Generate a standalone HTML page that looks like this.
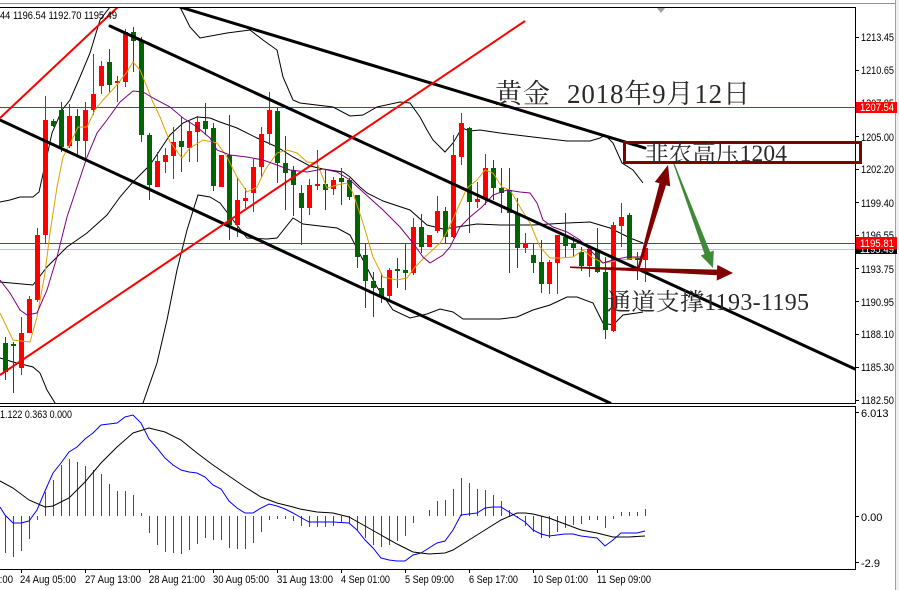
<!DOCTYPE html>
<html><head><meta charset="utf-8"><style>
html,body{margin:0;padding:0;background:#fff;}
svg{display:block;}
.ax{font-family:"Liberation Sans",sans-serif;font-size:11px;fill:#000;}
.cj{font-family:"Liberation Serif","Noto Serif CJK SC",serif;fill:#2a2a2a;}
</style></head><body>
<svg width="899" height="590" viewBox="0 0 899 590" xmlns="http://www.w3.org/2000/svg">
<defs>
<clipPath id="mc"><rect x="0" y="7" width="855" height="396"/></clipPath>
<clipPath id="ic"><rect x="0" y="406" width="855" height="163"/></clipPath>
</defs>
<rect width="899" height="590" fill="#fff"/>
<rect x="895" y="0" width="4" height="590" fill="#f0f0f0"/>
<line x1="895.5" y1="0" x2="895.5" y2="590" stroke="#a0a0a0"/>
<line x1="0" y1="3.5" x2="895" y2="3.5" stroke="#909090"/>

<g clip-path="url(#mc)">
<line x1="0" y1="107.5" x2="855" y2="107.5" stroke="#ff0000"/>
<line x1="0" y1="249.5" x2="855" y2="249.5" stroke="#c0c0c0"/>
<line x1="0" y1="243.5" x2="855" y2="243.5" stroke="#ff0000"/>

<g fill="none" stroke="#000" stroke-width="1">
<polyline points="0,202 10,200 20,197 33,197 39,192 45,165 52,133 62,110 70,100 80,77 90,53 100,20 110,7 118,-10 172,-10 180,7 190,27 200,38 227,33 250,30 263,40 277,50 283,77 293,100 300,103 333,107 350,116 363,115 377,107 400,102 410,103 420,117 427,130 433,140 445,152 453,143 462,128 470,131 480,130 500,133 533,137 567,141 590,141 600,138 605,135 613,143 622,163 633,170 643,183"/>
<polyline points="0,282 33,285 47,267 67,247 87,233 107,215 120,197 133,182 143,172 150,165 160,150 170,135 183,123 197,117 210,118 220,122 237,128 257,138 277,147 293,157 310,166 323,169 343,172 350,177 360,187 367,193 383,201 410,210 427,225 443,229 457,227 477,224 500,225 533,225 567,223 590,222 610,228 630,238 643,243"/>
<polyline points="0,358 13,362 33,367 40,373 47,390 55,403 60,420 140,420 143,403 157,363 167,320 177,270 187,230 198,195 210,197 220,203 233,220 247,238 267,239 277,238 293,218 303,224 337,228 350,235 363,260 377,287 393,310 410,318 427,314 440,309 453,312 463,319 500,319 517,317 533,310 550,305 567,297 577,297 593,303 603,323 613,325 623,315 637,313 643,312"/>
</g>

<path stroke="#ff0000" fill="none" d="M21.5 317V375M29.5 296V333M37.5 228V302M45.5 96V243M69.5 104V148M85.5 102V158M93.5 54V115M101.5 61V94M117.5 76V102M125.5 29V87M157.5 152V187M165.5 148V173M173.5 127V179M189.5 120V162M197.5 116V162M221.5 155V187M237.5 177V237M245.5 188V208M253.5 159V212M261.5 127V177M269.5 92V145M309.5 179V215M317.5 150V190M333.5 177V195M389.5 268V300M413.5 218V275M429.5 235V247M437.5 196V233M453.5 135V238M461.5 113V165M477.5 182V208M485.5 154V205M525.5 233V253M549.5 260V294M557.5 235V294M589.5 249V277M613.5 222V332M621.5 203V247M645.5 247V282"/>
<path stroke="#006400" fill="none" d="M5.5 337V380M13.5 342V393M53.5 119V127M61.5 102V152M77.5 109V155M109.5 49V92M133.5 27V72M141.5 37V142M149.5 133V200M181.5 117V172M205.5 103V135M213.5 123V191M229.5 115V240M277.5 108V183M285.5 136V210M293.5 166V216M301.5 185V245M325.5 169V210M341.5 168V205M349.5 178V200M357.5 195V268M365.5 243V308M373.5 272V317M381.5 273V303M397.5 258V288M405.5 243V290M421.5 214V253M445.5 207V244M469.5 127V233M493.5 160V200M501.5 168V213M509.5 168V273M517.5 198V268M533.5 243V273M541.5 240V293M565.5 213V257M573.5 237V257M581.5 247V271M597.5 228V273M605.5 257V339M629.5 213V260M637.5 252V280"/>
<g fill="#ff0000">
<rect x="19" y="333" width="5" height="35"/><rect x="27" y="299" width="5" height="34"/><rect x="35" y="235" width="5" height="65"/><rect x="43" y="120" width="5" height="115"/><rect x="67" y="116" width="5" height="30"/><rect x="83" y="110" width="5" height="31"/><rect x="91" y="94" width="5" height="16"/><rect x="99" y="66" width="5" height="20"/><rect x="115" y="81" width="5" height="2"/><rect x="123" y="32" width="5" height="50"/><rect x="155" y="161" width="5" height="26"/><rect x="163" y="155" width="5" height="7"/><rect x="171" y="142" width="5" height="14"/><rect x="187" y="131" width="5" height="17"/><rect x="195" y="122" width="5" height="10"/><rect x="219" y="155" width="5" height="32"/><rect x="235" y="200" width="5" height="25"/><rect x="243" y="198" width="5" height="3"/><rect x="251" y="167" width="5" height="26"/><rect x="259" y="134" width="5" height="33"/><rect x="267" y="110" width="5" height="24"/><rect x="307" y="185" width="5" height="23"/><rect x="315" y="184" width="5" height="2"/><rect x="331" y="180" width="5" height="9"/><rect x="387" y="270" width="5" height="26"/><rect x="411" y="227" width="5" height="46"/><rect x="427" y="235" width="5" height="12"/><rect x="435" y="211" width="5" height="20"/><rect x="451" y="155" width="5" height="82"/><rect x="459" y="123" width="5" height="34"/><rect x="475" y="199" width="5" height="3"/><rect x="483" y="168" width="5" height="30"/><rect x="523" y="243" width="5" height="5"/><rect x="547" y="262" width="5" height="22"/><rect x="555" y="235" width="5" height="28"/><rect x="587" y="249" width="5" height="17"/><rect x="611" y="225" width="5" height="106"/><rect x="619" y="217" width="5" height="9"/><rect x="643" y="248" width="5" height="12"/>
</g>
<g fill="#006400">
<rect x="3" y="343" width="5" height="29"/><rect x="11" y="344" width="5" height="2"/><rect x="51" y="121" width="5" height="5"/><rect x="59" y="110" width="5" height="37"/><rect x="75" y="116" width="5" height="25"/><rect x="107" y="62" width="5" height="23"/><rect x="131" y="32" width="5" height="9"/><rect x="139" y="41" width="5" height="94"/><rect x="147" y="135" width="5" height="50"/><rect x="179" y="141" width="5" height="6"/><rect x="203" y="121" width="5" height="8"/><rect x="211" y="128" width="5" height="58"/><rect x="227" y="155" width="5" height="70"/><rect x="275" y="111" width="5" height="52"/><rect x="283" y="163" width="5" height="10"/><rect x="291" y="170" width="5" height="15"/><rect x="299" y="193" width="5" height="15"/><rect x="323" y="184" width="5" height="6"/><rect x="339" y="178" width="5" height="4"/><rect x="347" y="180" width="5" height="17"/><rect x="355" y="195" width="5" height="62"/><rect x="363" y="255" width="5" height="26"/><rect x="371" y="281" width="5" height="7"/><rect x="379" y="288" width="5" height="9"/><rect x="395" y="269" width="5" height="2"/><rect x="403" y="270" width="5" height="3"/><rect x="419" y="227" width="5" height="20"/><rect x="443" y="211" width="5" height="26"/><rect x="467" y="128" width="5" height="74"/><rect x="491" y="168" width="5" height="20"/><rect x="499" y="188" width="5" height="5"/><rect x="507" y="190" width="5" height="23"/><rect x="515" y="213" width="5" height="35"/><rect x="531" y="255" width="5" height="8"/><rect x="539" y="262" width="5" height="22"/><rect x="563" y="237" width="5" height="9"/><rect x="571" y="243" width="5" height="5"/><rect x="579" y="252" width="5" height="14"/><rect x="595" y="250" width="5" height="22"/><rect x="603" y="272" width="5" height="58"/><rect x="627" y="215" width="5" height="45"/><rect x="635" y="258" width="5" height="2"/>
</g>

<polyline fill="none" stroke="#e0a000" stroke-width="1" points="0,313 13,340 30,342 37,317 45,273 50,233 57,187 63,157 72,140 78,127 87,127 95,110 103,100 115,87 127,72 133,62 140,70 147,87 152,100 160,117 170,142 182,158 190,148 203,140 217,143 227,157 237,177 247,192 257,187 265,170 277,153 287,150 297,153 307,162 317,163 327,188 337,185 347,183 353,193 363,223 373,257 383,277 397,280 407,278 415,267 427,255 440,243 447,232 457,210 467,188 477,180 485,170 493,173 502,187 510,190 520,207 530,223 540,247 550,258 560,258 573,257 583,250 593,258 603,263 610,262 620,260 630,259 640,257 645,250"/>
<polyline fill="none" stroke="#800080" stroke-width="1" points="0,280 10,293 20,310 27,315 37,313 47,290 57,257 67,217 77,187 87,157 97,133 107,120 120,102 133,91 143,92 153,98 170,107 183,118 197,127 210,138 217,150 230,155 247,157 263,160 277,165 290,170 307,172 323,169 337,172 350,180 363,192 383,210 400,227 413,243 423,257 430,263 443,255 450,247 460,227 470,217 482,207 493,195 507,190 520,192 530,193 537,203 543,220 553,227 567,232 580,240 590,250 603,263 613,260 627,257 640,257 645,255"/>

<g stroke="#000" stroke-width="3" fill="none" stroke-linecap="round">
<line x1="180" y1="7" x2="645" y2="148"/>
<line x1="110" y1="26" x2="855" y2="369"/>
<line x1="0" y1="120" x2="610" y2="403"/>
</g>
<g stroke="#ff0000" stroke-width="2" fill="none">
<line x1="0" y1="118" x2="120" y2="5"/>
<line x1="0" y1="375" x2="525" y2="21"/>
</g>

<polygon fill="#800000" points="637,270 659.5,183.3 654.8,182 668,165 670.2,186.4 666,185.2 639,270.5"/>
<polygon fill="#3d8b37" points="672.6,161.8 704.5,254.1 700.8,255.5 713,268 713.8,250.5 710.1,251.9 673.6,161.4"/>
<polygon fill="#800000" points="570,266.5 717.1,269.6 717.3,264.9 733,273 716.7,280.6 716.9,275.2 570,268"/>
</g>

<line x1="0" y1="7.5" x2="856" y2="7.5" stroke="#000"/>
<line x1="855.5" y1="7" x2="855.5" y2="404" stroke="#000"/>
<line x1="0" y1="403.5" x2="856" y2="403.5" stroke="#000"/>
<polygon points="657,8 665,8 661,13" fill="#a0a0a0"/>

<g stroke="#000">
<path d="M855 37.5h4M855 70.5h4M855 103.5h4M855 136.5h4M855 169.5h4M855 202.5h4M855 235.5h4M855 268.5h4M855 301.5h4M855 334.5h4M855 367.5h4M855 400.5h4"/>
</g>
<g class="ax">
<text x="861" y="41" textLength="33" lengthAdjust="spacingAndGlyphs">1213.45</text>
<text x="861" y="74" textLength="33" lengthAdjust="spacingAndGlyphs">1210.65</text>
<text x="861" y="107" textLength="33" lengthAdjust="spacingAndGlyphs">1207.85</text>
<text x="861" y="141" textLength="33" lengthAdjust="spacingAndGlyphs">1205.00</text>
<text x="861" y="173" textLength="33" lengthAdjust="spacingAndGlyphs">1202.20</text>
<text x="861" y="207" textLength="33" lengthAdjust="spacingAndGlyphs">1199.40</text>
<text x="861" y="239" textLength="33" lengthAdjust="spacingAndGlyphs">1196.55</text>
<text x="861" y="273" textLength="33" lengthAdjust="spacingAndGlyphs">1193.75</text>
<text x="861" y="306" textLength="33" lengthAdjust="spacingAndGlyphs">1190.95</text>
<text x="861" y="338" textLength="33" lengthAdjust="spacingAndGlyphs">1188.10</text>
<text x="861" y="371" textLength="33" lengthAdjust="spacingAndGlyphs">1185.30</text>
<text x="861" y="404" textLength="33" lengthAdjust="spacingAndGlyphs">1182.50</text>
</g>
<rect x="856" y="102" width="41" height="11" fill="#ff0000"/>
<text x="860" y="111" class="ax" style="fill:#fff" textLength="34" lengthAdjust="spacingAndGlyphs">1207.54</text>
<rect x="856" y="245" width="41" height="9" fill="#000"/>
<text x="860" y="253" class="ax" style="fill:#fff" textLength="34" lengthAdjust="spacingAndGlyphs">1195.49</text>
<rect x="856" y="237" width="41" height="12" fill="#ff0000"/>
<text x="860" y="247" class="ax" style="fill:#fff" textLength="34" lengthAdjust="spacingAndGlyphs">1195.81</text>

<text x="0" y="19" class="ax" textLength="117" lengthAdjust="spacingAndGlyphs">44 1196.54 1192.70 1195.49</text>
<text x="495" y="103" class="cj" font-size="27" textLength="55">黄金</text>
<text x="567" y="103" class="cj" font-size="27" textLength="183">2018年9月12日</text>
<rect x="624.5" y="142.5" width="236" height="20" fill="none" stroke="#800000" stroke-width="3"/>
<text x="645" y="161" class="cj" font-size="23.5" textLength="142">非农高压1204</text>
<text x="607" y="310" class="cj" font-size="24" textLength="202">通道支撑1193-1195</text>

<line x1="0" y1="406.5" x2="856" y2="406.5" stroke="#000"/>
<line x1="855.5" y1="406" x2="855.5" y2="570" stroke="#000"/>
<line x1="0" y1="569.5" x2="856" y2="569.5" stroke="#000"/>
<g clip-path="url(#ic)">
<path stroke="#008000" fill="none" d="M5.5 516V553M13.5 516V557M21.5 516V551M29.5 516V539M37.5 516V520M149.5 516V533M157.5 516V545M165.5 516V552M173.5 516V553M181.5 516V554M189.5 516V550M197.5 516V544M205.5 516V538M213.5 516V540M221.5 516V540M229.5 516V548M237.5 516V549M245.5 516V549M253.5 516V543M261.5 516V532M269.5 516V520M277.5 516V519M285.5 516V519M293.5 516V521M301.5 516V526M309.5 516V527M317.5 516V527M325.5 516V527M333.5 516V526M341.5 516V522M349.5 516V523M357.5 516V530M365.5 516V538M373.5 516V545M381.5 516V547M389.5 516V545M397.5 516V541M405.5 516V536M413.5 516V523M517.5 516V518M525.5 516V526M533.5 516V532M541.5 516V538M549.5 516V538M557.5 516V532M565.5 516V528M573.5 516V525M581.5 516V524M589.5 516V520M597.5 516V520M605.5 516V528M613.5 516V519"/>
<path stroke="#ff0000" fill="none" d="M45.5 492V516M53.5 480V516M61.5 465V516M69.5 459V516M77.5 462V516M85.5 466V516M93.5 470V516M101.5 474V516M109.5 484V516M117.5 491V516M125.5 491V516M133.5 495V516M141.5 513V516M429.5 510V516M437.5 501V516M445.5 500V516M453.5 489V516M461.5 478V516M469.5 483V516M477.5 489V516M485.5 490V516M493.5 495V516M501.5 501V516M509.5 510V516M621.5 512V516M629.5 512V516M637.5 512V516M645.5 509V516"/>
<polyline fill="none" stroke="#0000ff" points="0,507 5,515 13,523 21,523 29,521 37,510 45,491 53,473 61,463 69,452 77,447 85,439 93,433 101,425 109,424 117,423 125,417 133,415 141,423 149,439 157,448 165,458 173,465 181,470 189,472 197,473 205,477 213,485 221,489 229,501 237,508 245,513 253,513 261,508 269,504 277,506 285,509 293,513 300,517 309,522 317,522 333,522 349,523 357,530 365,540 373,548 381,558 389,560 397,561 405,561 413,555 421,553 429,548 437,543 445,541 453,530 461,515 469,514 477,513 485,508 493,507 501,507 509,512 517,517 525,522 533,530 541,534 549,536 557,535 565,534 573,534 581,536 589,537 597,538 605,546 613,540 621,533 629,533 637,533 645,531"/>
<polyline fill="none" stroke="#000" points="0,481 13,488 29,500 45,507 53,506 69,498 85,482 101,463 117,447 133,433 149,428 165,432 181,440 197,453 213,465 229,476 245,487 261,497 277,503 293,507 300,509 317,512 333,513 349,517 365,526 381,535 397,544 413,552 429,554 445,553 453,550 469,540 485,530 501,520 517,513 525,513 533,514 549,518 565,524 581,530 597,533 605,535 613,537 629,537 645,536"/>
</g>
<text x="0" y="418" class="ax" textLength="72" lengthAdjust="spacingAndGlyphs">1.122 0.363 0.000</text>
<path stroke="#000" d="M855 412.5h4M855 516.5h4M855 562.5h4"/>
<g class="ax">
<text x="861" y="417">6.013</text>
<text x="861" y="521">0.00</text>
<text x="861" y="567">-2.9</text>
</g>

<path stroke="#000" d="M21.5 569v4M85.5 569v4M149.5 569v4M213.5 569v4M277.5 569v4M341.5 569v4M405.5 569v4M469.5 569v4M533.5 569v4M597.5 569v4"/>
<g class="ax">
<text x="-43" y="583" textLength="56" lengthAdjust="spacingAndGlyphs">23 Aug 21:00</text>
<text x="20" y="583" textLength="56" lengthAdjust="spacingAndGlyphs">24 Aug 05:00</text>
<text x="85" y="583" textLength="56" lengthAdjust="spacingAndGlyphs">27 Aug 13:00</text>
<text x="149" y="583" textLength="56" lengthAdjust="spacingAndGlyphs">28 Aug 21:00</text>
<text x="213" y="583" textLength="56" lengthAdjust="spacingAndGlyphs">30 Aug 05:00</text>
<text x="277" y="583" textLength="56" lengthAdjust="spacingAndGlyphs">31 Aug 13:00</text>
<text x="341" y="583" textLength="49" lengthAdjust="spacingAndGlyphs">4 Sep 01:00</text>
<text x="405" y="583" textLength="49" lengthAdjust="spacingAndGlyphs">5 Sep 09:00</text>
<text x="469" y="583" textLength="49" lengthAdjust="spacingAndGlyphs">6 Sep 17:00</text>
<text x="533" y="583" textLength="55" lengthAdjust="spacingAndGlyphs">10 Sep 01:00</text>
<text x="597" y="583" textLength="54" lengthAdjust="spacingAndGlyphs">11 Sep 09:00</text>
</g>
</svg>
</body></html>
